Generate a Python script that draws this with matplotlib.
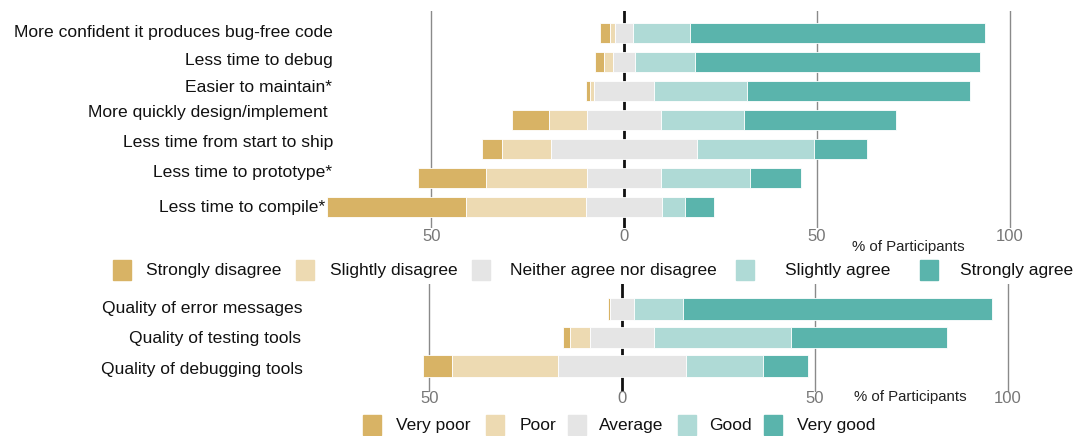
import matplotlib
matplotlib.use("Agg")
import matplotlib.pyplot as plt
from matplotlib.patches import Rectangle

plt.rcParams['font.family'] = ['Liberation Sans', 'DejaVu Sans']

# ---- data (percent of participants) ----
agreeLevels = ['Strongly disagree', 'Slightly disagree', 'Neither agree nor disagree',
               'Slightly agree', 'Strongly agree']
agreeItems = ['More confident it produces bug-free code', 'Less time to debug',
              'Easier to maintain*', 'More quickly design/implement ',
              'Less time from start to ship', 'Less time to prototype*',
              'Less time to compile*']
stronglyDisagree = [2.4, 2.2, 1.1, 9.7, 5.1, 17.7, 35.9]
slightlyDisagree = [1.5, 2.4, 1.1, 9.8, 12.8, 26.3, 31.3]
neitherAgree = [4.5, 5.7, 15.5, 19.3, 37.7, 19.0, 19.5]
slightlyAgree = [15.0, 15.5, 24.1, 21.4, 30.4, 23.3, 6.2]
stronglyAgree = [76.4, 74.1, 58.0, 39.5, 13.7, 13.1, 7.5]

qualityLevels = ['Very poor', 'Poor', 'Average', 'Good', 'Very good']
qualityItems = ['Quality of error messages', 'Quality of testing tools',
                'Quality of debugging tools']
veryPoor = [0.5, 1.9, 7.5]
poor = [0.0, 5.2, 27.4]
average = [6.4, 16.4, 33.3]
good = [12.5, 35.6, 20.0]
veryGood = [80.3, 40.6, 11.5]

tickValues = [-50, 0, 50, 100]
tickLabels = ['50', '0', '50', '100']

COLORS = ['#D8B365', '#EDDAB2', '#E5E5E5', '#AFDAD6', '#5AB4AC']

W, H = 1073, 436
fig = plt.figure(figsize=(W / 100, H / 100), dpi=100)

PXU = 3.855  # pixels per percent
axLeftPx = 322


def fx(px):
    return px / W


def fy(py):
    return 1 - py / H


def drawPanel(x0, topPx, botPx, rowCenters, items, series, labelRight, labelY, barHeight):
    ax = fig.add_axes([fx(axLeftPx), fy(botPx), fx(W - axLeftPx), (botPx - topPx) / H])
    rowSpacing = rowCenters[1] - rowCenters[0]
    ylo = (botPx - rowCenters[0]) / rowSpacing
    yhi = -(rowCenters[0] - topPx) / rowSpacing
    ax.set_xlim((axLeftPx - x0) / PXU, (W - x0) / PXU)
    ax.set_ylim(ylo, yhi)
    ax.axis('off')

    for v in [-50, 50, 100]:
        ax.axvline(v, color='#8a8a8a', lw=1.0, zorder=0)
    ax.axvline(0, color='#111111', lw=2.0, zorder=0)

    for i in range(len(items)):
        neutral = series[2][i]
        left = -neutral / 2 - series[1][i] - series[0][i]
        for k in range(5):
            ax.barh(i, series[k][i], left=left, height=barHeight, color=COLORS[k],
                    edgecolor='white', linewidth=0.6, zorder=2)
            left += series[k][i]
        fig.text(fx(labelRight[i]), fy(labelY[i]), items[i], ha='right', va='center',
                 fontsize=12.6, color='#111111')
    return ax


topAx = drawPanel(624, 11, 228, [33, 62, 90, 119, 147, 177, 207], agreeItems,
                  [stronglyDisagree, slightlyDisagree, neitherAgree, slightlyAgree, stronglyAgree],
                  [333, 333, 332, 333, 333, 332, 325],
                  [33, 60, 87, 113, 142, 172, 207], 0.70)
botAx = drawPanel(622, 284, 392, [309, 337.5, 366], qualityItems,
                  [veryPoor, poor, average, good, veryGood],
                  [303, 301, 303], [308, 338, 369], 0.74)

# tick labels and axis captions
for v, lab in zip(tickValues, tickLabels):
    fig.text(fx(624 + v * PXU), fy(236), lab, ha='center', va='center', fontsize=12, color='#777777')
    fig.text(fx(622 + v * PXU), fy(398), lab, ha='center', va='center', fontsize=12, color='#777777')
fig.text(fx(908), fy(247), '% of Participants', ha='center', va='center', fontsize=10.8, color='#222222')
fig.text(fx(910), fy(397), '% of Participants', ha='center', va='center', fontsize=10.8, color='#222222')

# legends
topPatchX = [113, 296, 472, 736, 920]
topTextX = [146, 330, 510, 785, 960]
botPatchX = [363, 486, 568, 678, 764]
botTextX = [396, 520, 599, 709, 797]


def drawLegend(patchXs, textXs, labels, yc):
    for k in range(5):
        fig.patches.append(Rectangle((fx(patchXs[k]), fy(yc + 10)), 18 / W, 20 / H,
                                     transform=fig.transFigure, color=COLORS[k]))
        fig.text(fx(textXs[k]), fy(yc), labels[k], ha='left', va='center',
                 fontsize=12.5, color='#111111')


drawLegend(topPatchX, topTextX, agreeLevels, 270)
drawLegend(botPatchX, botTextX, qualityLevels, 425)

fig.savefig('out.png', dpi=100)
